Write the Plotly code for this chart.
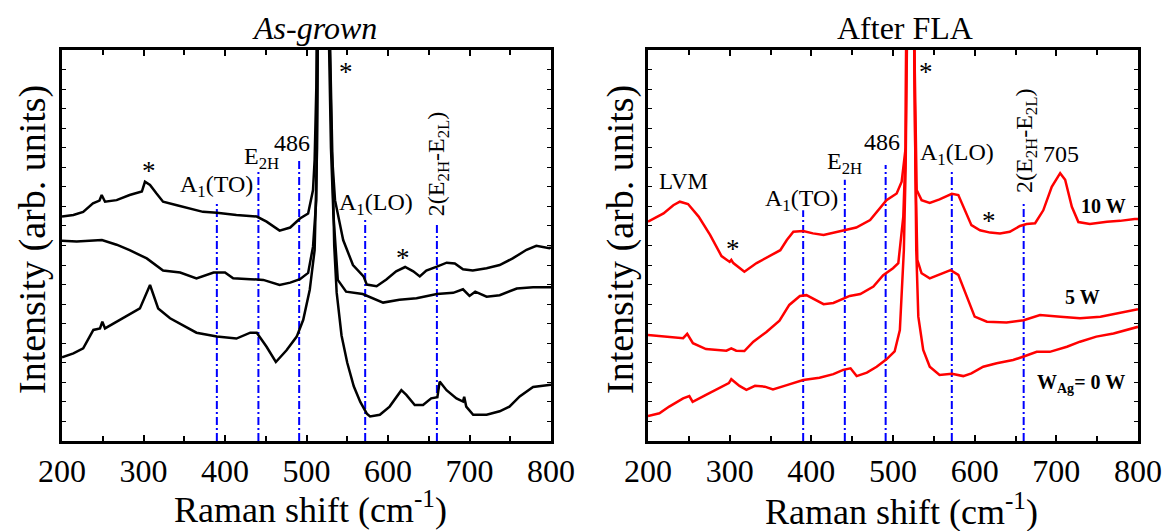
import plotly.graph_objects as go

FONT = "Liberation Serif, Times New Roman, serif"

# ---------------- data (As-grown panel, black) ----------------
ag1_x = [200, 214, 226, 238, 246, 248.7, 252.8, 267, 283, 295, 298, 301.8, 308, 316, 324, 341, 357, 373, 390, 414,
         439, 451, 467, 480, 492, 502, 508, 510, 512, 515, 520, 525, 529, 531, 535, 545, 557, 570, 574, 586, 598,
         610, 621, 631, 639, 647, 660, 672, 682, 692, 704, 721, 737, 753, 770, 782, 798, 800]
ag1_y = [57.4, 57.8, 58.6, 60.8, 61.5, 62.9, 61.2, 61.6, 62.9, 63.6, 63.8, 66.3, 65.5, 63.3, 61.2, 60.3, 59.5, 58.6,
         58.4, 57.8, 57.4, 56.1, 53.8, 54.6, 56.9, 58.2, 64.2, 72, 90, 140, 300, 140, 95, 74, 61.6, 51.4, 45, 42.1,
         40, 39.6, 41.3, 43.4, 44.5, 43.4, 42.1, 43.6, 44.6, 45.6, 45.4, 43.9, 43.6, 44.2, 45, 46.7, 48.9, 49.9,
         49.3, 49.5]

ag2_x = [200, 218, 249, 267, 283, 304, 324, 345, 365, 386, 400, 410, 431, 447, 467, 480, 492, 502, 508, 512, 514,
         520, 526, 530, 533, 535.5, 538.4, 548.6, 569, 594, 614, 635, 660, 680, 692, 700, 707, 721, 737, 758, 778,
         800]
ag2_y = [51.2, 51, 51.4, 50.2, 48.8, 46.7, 43.6, 43.1, 41.6, 43.1, 43.1, 41.6, 41.4, 41.2, 39.9, 40.5, 41.4, 43,
         49.7, 61.6, 110, 300, 120, 75, 58, 48.8, 41.2, 38.2, 37.6, 35.4, 36.1, 36.5, 37.6, 37.9, 38.8, 37.1, 38.2,
         36.9, 37.3, 39, 39.3, 39.3]

ag3_x = [200, 214, 226, 238.5, 246.6, 249.5, 252.8, 267, 283, 295.6, 308, 318, 332.6, 349, 365, 390, 414, 431, 439,
         451, 462.4, 475.5, 488, 496, 504, 510, 513, 520, 526, 531, 534, 537, 543, 550, 558, 566, 574, 578, 590,
         602, 616.4, 622.5, 632.8, 643, 653, 660.6, 663.4, 671.8, 684, 692, 693.5, 696, 704.5, 721, 737, 749,
         761.6, 778, 800]
ag3_y = [21.4, 22.4, 23.7, 28.4, 28.8, 30.5, 28.8, 30.5, 32.5, 33.9, 39.9, 33.9, 31.4, 29.6, 27.7, 26.7, 26.2, 27.7,
         27.7, 24.1, 20.2, 23.2, 26.7, 31, 38.7, 48.9, 75, 300, 130, 80, 50, 38, 27, 20, 14, 10, 7, 6.3, 6.7, 8.8,
         13, 11.8, 9.2, 9.2, 10.9, 11.2, 15.2, 13, 10.9, 10.1, 11.3, 8.8, 6.7, 6.7, 7.6, 8.8, 11.4, 13.8, 14.4]

# ---------------- data (After FLA panel, red) ----------------
w10_x = [200, 219, 231, 239, 249, 262, 276, 290, 300, 302, 304.5, 318, 333, 349, 362, 370, 378, 390, 402, 415, 431,
         443, 455, 472, 484, 492, 504.5, 510.6, 515.5, 517.5, 521, 525.5, 527.5, 529, 535, 545, 557, 572, 580, 588,
         596, 606.5, 619, 631, 643, 655.5, 663.6, 674, 684, 694.4, 704.7, 710.8, 719, 727, 741, 762, 778, 796, 800]
w10_y = [56.1, 58.2, 60.3, 61.2, 60.6, 57.4, 52.7, 47.3, 45.8, 46.3, 45.5, 43.3, 45.5, 47.3, 48.8, 51.4, 53.5, 53.7,
         53.1, 52.7, 53.5, 54.1, 54.6, 56.5, 59.5, 61.6, 63.3, 66.3, 75, 110, 300, 110, 75, 64.2, 61.6, 60.9,
         61.8, 63.2, 62.9, 59, 55.2, 53.9, 53.3, 53.1, 53.5, 55, 55.5, 55.7, 59, 65, 68.5, 66.8, 59.9, 56, 55.5,
         56.1, 56.3, 56.8, 56.8]

w5_x = [200, 222, 243, 248, 255, 271, 296, 302, 308, 318, 329, 345, 361, 373, 386, 394, 402, 415, 427, 441, 447,
        460, 476, 488, 500, 506.5, 512.6, 515.5, 517.5, 521, 525.5, 527.5, 529.8, 535, 545, 557, 570.5, 580, 590,
        600, 615, 639, 660, 680, 705, 729, 754, 778, 800]
w5_y = [27.1, 26.7, 26.3, 27.4, 25, 23.5, 23.1, 23.7, 23.1, 23, 25.4, 27.9, 30.8, 34.8, 37.1, 37.3, 36.5, 35, 35.3,
        36.5, 37.1, 37.6, 39.5, 42.4, 44.2, 45.5, 57.4, 75, 110, 300, 110, 70, 46.3, 42.9, 41.6, 42.5, 43.7,
        42.5, 36.9, 31.8, 30.5, 30.3, 30.9, 32.2, 31.8, 31.4, 31.8, 32.7, 33.7]

w0_x = [200, 214, 226, 243, 250.6, 254.7, 271, 288, 299, 302, 312, 320.5, 331, 343, 353, 370, 390, 410, 427, 439,
        448, 455.5, 468, 480, 492, 502, 508.4, 513.3, 515.5, 517.5, 521, 525.5, 527.5, 528.5, 531, 537, 545, 557,
        572, 586, 596, 610.5, 627, 647, 660, 676, 692, 700.5, 713, 729, 749, 770, 786, 800]
w0_y = [6.4, 7.1, 8.8, 10.9, 11.5, 10, 11.8, 13.5, 14.8, 15.8, 14.1, 13.1, 14.1, 13.9, 13.2, 14.3, 15.6, 16.2, 17.1,
        18.2, 18.6, 16.6, 17.5, 19, 20.9, 22.9, 28.4, 48.8, 70, 110, 300, 110, 65, 48.8, 31.8, 23.3, 19, 16.9,
        17.2, 16.6, 17.3, 19, 19.9, 20.7, 21.6, 22.8, 22.8, 23.3, 24.1, 25.4, 26.7, 27.5, 28.4, 29.2]

# mode reference lines (Raman shift) and the height where each dash-dot line starts
mode_x = [390, 441, 491, 572, 660]
mode_top_left = [61, 69.5, 72, 57, 56]
mode_top_right = [59, 66.8, 70.6, 69.4, 61.2]

x_ticks = [200, 300, 400, 500, 600, 700, 800]

fig = go.Figure()

def add_line(x, y, color, xa, ya, width=2.5, dash=None):
    fig.add_trace(go.Scatter(x=x, y=y, mode="lines", xaxis=xa, yaxis=ya, showlegend=False,
                             hoverinfo="skip",
                             line=dict(color=color, width=width, dash=dash)))

# blue dash-dot mode lines
for mx, t in zip(mode_x, mode_top_left):
    add_line([mx, mx], [0, t], "#0000FF", "x", "y", width=2, dash="8px,3px,2px,3px")
for mx, t in zip(mode_x, mode_top_right):
    add_line([mx, mx], [0, t], "#0000FF", "x2", "y2", width=2, dash="8px,3px,2px,3px")

# spectra
for xs, ys in [(ag1_x, ag1_y), (ag2_x, ag2_y), (ag3_x, ag3_y)]:
    add_line(xs, ys, "#000000", "x", "y")
for xs, ys in [(w10_x, w10_y), (w5_x, w5_y), (w0_x, w0_y)]:
    add_line(xs, ys, "#FF0000", "x2", "y2")

xax = dict(range=[200, 800], tickmode="array", tickvals=x_ticks, ticks="inside", ticklen=6, tickwidth=1.5,
           tickcolor="black", minor=dict(tickmode="linear", tick0=200, dtick=50, ticks="inside", ticklen=5,
                                          tickwidth=1.5, tickcolor="black"),
           showline=True, linewidth=2.5, linecolor="black", mirror="allticks", showgrid=False, zeroline=False,
           automargin=False, tickfont=dict(family=FONT, size=32, color="black"))
yax = dict(range=[0, 100], tickmode="linear", tick0=0, dtick=5, ticks="inside", ticklen=4, tickwidth=1.2,
           tickcolor="black", showticklabels=False, showline=True, linewidth=2.5, linecolor="black",
           mirror="allticks", showgrid=False, zeroline=False, automargin=False)

ydom = [(531 - 441) / 531, (531 - 50) / 531]
fig.update_layout(
    template="none",
    width=1171, height=531, margin=dict(l=0, r=0, t=0, b=0, autoexpand=False),
    paper_bgcolor="white", plot_bgcolor="white",
    xaxis=dict(xax, domain=[62 / 1171, 551 / 1171], anchor="y"),
    yaxis=dict(yax, domain=ydom, anchor="x"),
    xaxis2=dict(xax, domain=[648 / 1171, 1138 / 1171], anchor="y2"),
    yaxis2=dict(yax, domain=ydom, anchor="x2"),
)

ann = []
def txt(text, x, y, xr, yr, size=24, angle=0, **kw):
    ann.append(dict(text=text, x=x, y=y, xref=xr, yref=yr, showarrow=False, textangle=angle,
                    font=dict(family=FONT, size=size, color="black"), xanchor="center", yanchor="middle", **kw))

# left panel labels
txt("*", 307, 69, "x", "y", 27)
txt("A<sub>1</sub>(TO)", 390, 65.2, "x", "y")
txt("E<sub>2H</sub>", 445, 72.4, "x", "y")
txt("486", 482, 76.3, "x", "y")
txt("*", 548, 94.4, "x", "y", 27)
txt("A<sub>1</sub>(LO)", 585, 60.7, "x", "y")
txt("*", 618.4, 46.8, "x", "y", 27)
txt("2(E<sub>2H</sub>-E<sub>2L</sub>)", 660.6, 70.9, "x", "y", 24, -90)

# right panel labels
txt("LVM", 243, 66.4, "x2", "y2", 23)
txt("*", 304, 49.1, "x2", "y2", 27)
txt("A<sub>1</sub>(TO)", 387.5, 61.6, "x2", "y2")
txt("E<sub>2H</sub>", 441, 71.2, "x2", "y2")
txt("486", 486, 76.4, "x2", "y2")
txt("*", 541, 94.4, "x2", "y2", 27)
txt("A<sub>1</sub>(LO)", 578, 73.4, "x2", "y2")
txt("*", 617, 56.3, "x2", "y2", 27)
txt("2(E<sub>2H</sub>-E<sub>2L</sub>)", 662, 76.8, "x2", "y2", 24, -90)
txt("705", 706, 73.4, "x2", "y2")
txt("<b>10 W</b>", 757.6, 60.1, "x2", "y2", 20)
txt("<b>5 W</b>", 732.5, 36.9, "x2", "y2", 20)
txt("<b>W<sub>Ag</sub>= 0 W</b>", 730, 14.8, "x2", "y2", 20)

# titles and axis titles
txt("<i>As-grown</i>", 314 / 1171, (531 - 28) / 531, "paper", "paper", 32)
txt("After FLA", 905 / 1171, (531 - 28) / 531, "paper", "paper", 32)
txt("Raman shift (cm<sup>-1</sup>)", 310 / 1171, (531 - 507) / 531, "paper", "paper", 36)
txt("Raman shift (cm<sup>-1</sup>)", 901 / 1171, (531 - 509) / 531, "paper", "paper", 36)
txt("Intensity (arb. units)", 32 / 1171, (531 - 240) / 531, "paper", "paper", 38, -90)
txt("Intensity (arb. units)", 620 / 1171, (531 - 240) / 531, "paper", "paper", 38, -90)

fig.update_layout(annotations=ann)
fig.write_html("out.html")
